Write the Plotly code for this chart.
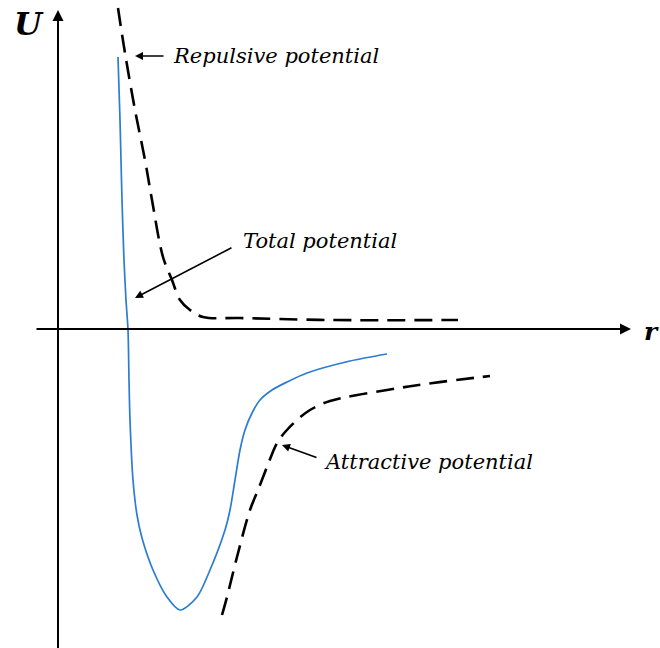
import plotly.graph_objects as go

# Interatomic potential curves, U(r), in arbitrary units
r_total = [0.60, 0.62, 0.64, 0.66, 0.68, 0.70, 0.71, 0.72, 0.75, 0.79, 0.84, 0.95, 1.09,
           1.22, 1.39, 1.52, 1.67, 1.72, 1.77, 1.82, 1.87, 1.94, 2.02, 2.14, 2.29, 2.49,
           2.92, 3.29]
u_total = [2.72, 2.09, 1.29, 0.69, 0.29, -0.01, -0.51, -0.91, -1.51, -1.86, -2.09, -2.41, -2.68,
           -2.81, -2.68, -2.41, -2.01, -1.81, -1.51, -1.21, -1.01, -0.84, -0.71, -0.61, -0.53, -0.44,
           -0.32, -0.25]

r_rep = [0.60, 0.67, 0.77, 0.87, 0.94, 1.05, 1.14, 1.22, 1.32, 1.45, 1.82, 2.72, 4.00]
u_rep = [3.21, 2.76, 2.19, 1.69, 1.29, 0.72, 0.49, 0.29, 0.19, 0.12, 0.11, 0.09, 0.09]

r_att = [1.64, 1.69, 1.79, 1.92, 2.00, 2.09, 2.19, 2.28, 2.39, 2.52, 2.72, 3.29, 3.75, 4.32]
u_att = [-2.86, -2.68, -2.28, -1.81, -1.61, -1.38, -1.14, -1.02, -0.91, -0.81, -0.72, -0.61, -0.54, -0.47]

labels = ["Repulsive potential", "Total potential", "Attractive potential"]

SERIF = "DejaVu Serif"

fig = go.Figure()

fig.add_trace(go.Scatter(x=r_rep, y=u_rep, mode="lines", line_shape="spline",
                         line=dict(color="black", width=2.6, dash="18px,9px"),
                         hoverinfo="skip"))
fig.add_trace(go.Scatter(x=r_att, y=u_att, mode="lines", line_shape="spline",
                         line=dict(color="black", width=2.6, dash="18px,9px"),
                         hoverinfo="skip"))
fig.add_trace(go.Scatter(x=r_total, y=u_total, mode="lines", line_shape="spline",
                         line=dict(color="#2a7dd1", width=1.7, smoothing=0.8),
                         hoverinfo="skip"))

annotations = []

# Coordinate axes drawn as arrows
annotations.append(dict(x=0, y=3.19, ax=0, ay=-3.3, xref="x", yref="y", axref="x", ayref="y",
                        text="", showarrow=True, arrowhead=2, arrowsize=1.1,
                        arrowwidth=2, arrowcolor="black"))
annotations.append(dict(x=5.73, y=0, ax=-0.23, ay=0, xref="x", yref="y", axref="x", ayref="y",
                        text="", showarrow=True, arrowhead=2, arrowsize=1.1,
                        arrowwidth=2, arrowcolor="black"))

# Axis symbols
annotations.append(dict(x=-0.29, y=3.05, xref="x", yref="y", text="<b><i>U</i></b>",
                        showarrow=False, font=dict(family=SERIF, size=32, color="black")))
annotations.append(dict(x=5.84, y=-0.02, xref="x", yref="y", text="<b><i>r</i></b>",
                        xanchor="left", showarrow=False,
                        font=dict(family=SERIF, size=25, color="black")))

# Curve labels with pointer arrows
label_pos = [(1.13, 2.73), (1.83, 0.88), (2.64, -1.33)]
arrow_tips = [(0.77, 2.73), (0.77, 0.31), (2.24, -1.16)]
arrow_tails = [(1.07, 2.73), (1.75, 0.82), (2.60, -1.29)]
for lab, (lx, ly), (tx, ty), (sx, sy) in zip(labels, label_pos, arrow_tips, arrow_tails):
    annotations.append(dict(x=lx, y=ly, xref="x", yref="y", text="<i>" + lab + "</i>",
                            xanchor="left", yanchor="middle", showarrow=False,
                            font=dict(family=SERIF, size=21, color="black")))
    annotations.append(dict(x=tx, y=ty, ax=sx, ay=sy, xref="x", yref="y",
                            axref="x", ayref="y", text="", showarrow=True,
                            arrowhead=2, arrowsize=1, arrowwidth=1.6,
                            arrowcolor="black"))

fig.update_layout(
    width=660, height=648, autosize=False,
    margin=dict(l=0, r=0, t=0, b=0),
    paper_bgcolor="white", plot_bgcolor="white",
    showlegend=False,
    xaxis=dict(range=[-0.58, 6.02], visible=False, fixedrange=True),
    yaxis=dict(range=[-3.19, 3.29], visible=False, fixedrange=True),
    annotations=annotations,
)

fig.write_html("out.html")
